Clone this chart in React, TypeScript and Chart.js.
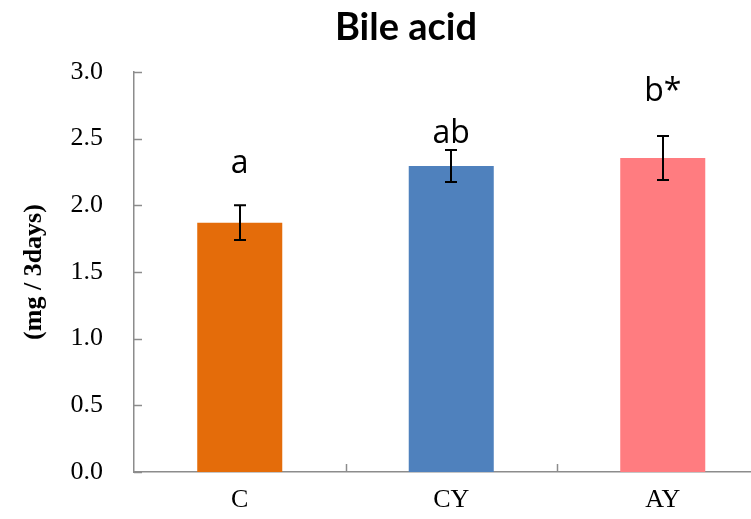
import React, { useEffect, useRef } from "react";
import { Chart, registerables } from "chart.js";

Chart.register(...registerables);

const categories = ["C", "CY", "AY"];
const means = [1.87, 2.295, 2.355];
const errors = [0.13, 0.12, 0.165];
const letters = ["a", "ab", "b*"];
const letterLevels = [2.24, 2.47, 2.78];
const barColors = ["#E46C0A", "#4F81BD", "#FF7C80"];
const yMin = 0;
const yMax = 3;
const yStep = 0.5;
const chartTitle = "Bile acid";
const yTitle = "(mg / 3days)";

const W = 780;
const H = 519;
const AXIS = "#8c8c8c";

const overlay = {
  id: "overlay",
  afterDraw(chart: any) {
    const ctx = chart.ctx;
    const xs = chart.scales.x;
    const ys = chart.scales.y;
    const meta = chart.getDatasetMeta(0);
    ctx.save();
    ctx.strokeStyle = AXIS;
    ctx.lineWidth = 1.5;
    ys.ticks.forEach((_t: any, i: number) => {
      const py = Math.round(ys.getPixelForTick(i)) + 0.5;
      ctx.beginPath();
      ctx.moveTo(xs.left, py);
      ctx.lineTo(xs.left + 8, py);
      ctx.stroke();
    });
    for (let i = 1; i < categories.length; i++) {
      const px = Math.round((xs.getPixelForTick(i - 1) + xs.getPixelForTick(i)) / 2) + 0.5;
      ctx.beginPath();
      ctx.moveTo(px, ys.bottom);
      ctx.lineTo(px, ys.bottom - 8);
      ctx.stroke();
    }
    ctx.strokeStyle = "#000";
    ctx.lineWidth = 2;
    meta.data.forEach((bar: any, i: number) => {
      const cx = Math.round(bar.x);
      const top = ys.getPixelForValue(means[i] + errors[i]);
      const bot = ys.getPixelForValue(means[i] - errors[i]);
      ctx.beginPath();
      ctx.moveTo(cx, top);
      ctx.lineTo(cx, bot);
      ctx.moveTo(cx - 6, top);
      ctx.lineTo(cx + 6, top);
      ctx.moveTo(cx - 6, bot);
      ctx.lineTo(cx + 6, bot);
      ctx.stroke();
    });
    ctx.fillStyle = "#000";
    ctx.font = "32px 'Open Sans'";
    ctx.textAlign = "center";
    ctx.textBaseline = "alphabetic";
    meta.data.forEach((bar: any, i: number) => {
      ctx.fillText(letters[i], bar.x, ys.getPixelForValue(letterLevels[i]));
    });
    ctx.font = "bold 38px Lato";
    ctx.fillText(chartTitle, 406, 40);
    ctx.restore();
  },
};

export default function App() {
  const ref = useRef<HTMLCanvasElement>(null);
  useEffect(() => {
    if (!ref.current) return;
    const chart = new Chart(ref.current, {
      type: "bar",
      data: {
        labels: categories,
        datasets: [
          {
            data: means,
            backgroundColor: barColors,
            borderWidth: 0,
            categoryPercentage: 1,
            barPercentage: 0.402,
          },
        ],
      },
      options: {
        responsive: false,
        animation: false,
        devicePixelRatio: 1,
        layout: { padding: { top: 72, right: 11.5, left: 0, bottom: 0 } },
        plugins: {
          legend: { display: false },
          title: { display: false },
          tooltip: { enabled: false },
        },
        scales: {
          x: {
            grid: { display: false, drawTicks: false },
            border: { display: true, color: AXIS, width: 1.5 },
            ticks: {
              color: "#000",
              font: { family: "'Liberation Serif'", size: 26 },
              padding: 13,
            },
            afterFit: (s: any) => {
              s.height = 47;
            },
          },
          y: {
            min: yMin,
            max: yMax,
            grid: { display: false, drawTicks: false },
            border: { display: true, color: AXIS, width: 1.5 },
            ticks: {
              stepSize: yStep,
              color: "#000",
              font: { family: "'Liberation Serif'", size: 26 },
              padding: 31,
              callback: (v: any) => Number(v).toFixed(1),
            },
            title: {
              display: true,
              text: yTitle,
              color: "#000",
              font: { family: "'Liberation Serif'", size: 26, weight: "bold" },
              padding: { top: 19, bottom: 0 },
            },
            afterFit: (s: any) => {
              s.width = 134;
            },
          },
        },
      },
      plugins: [overlay],
    });
    return () => chart.destroy();
  }, []);
  return (
    <div
      style={{
        position: "fixed",
        left: 0,
        top: 0,
        width: 751,
        height: 519,
        overflow: "hidden",
        background: "#fff",
      }}
    >
      <canvas ref={ref} width={W} height={H} style={{ width: W, height: H, display: "block" }} />
    </div>
  );
}
